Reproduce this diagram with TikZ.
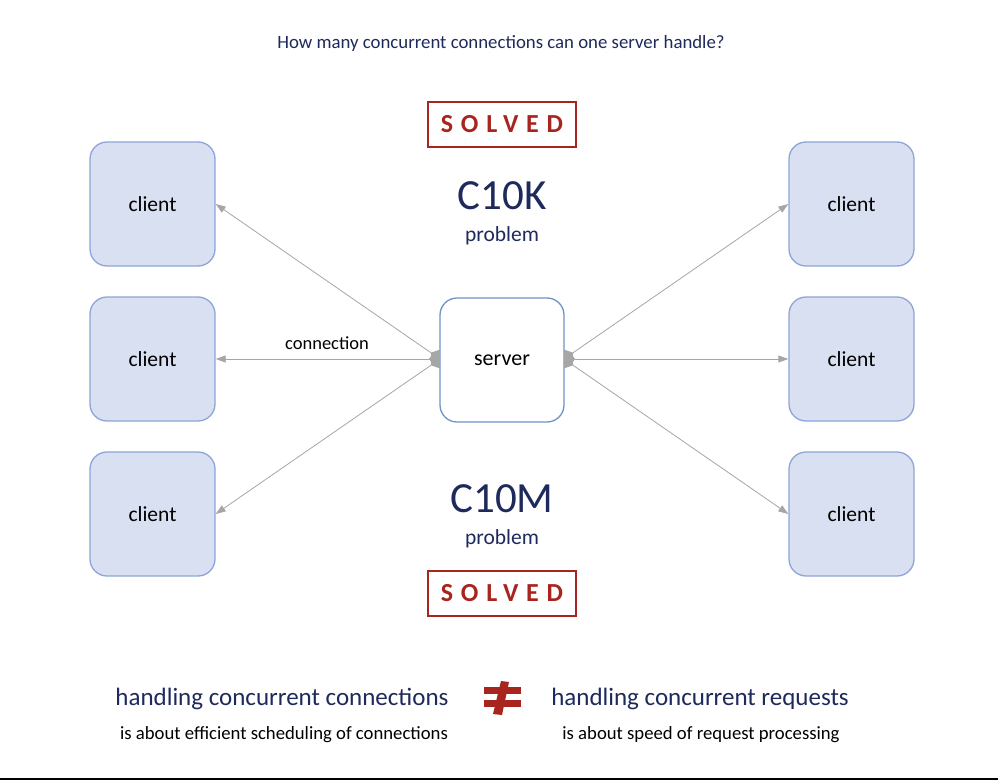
\documentclass[tikz,border=0pt]{standalone}
\usepackage{fontspec}
\setmainfont{Carlito}
\usetikzlibrary{arrows.meta}
\definecolor{navy}{HTML}{1F2A5C}
\definecolor{solvedred}{HTML}{A8241E}
\definecolor{cfill}{HTML}{D9E0F2}
\definecolor{cborder}{HTML}{8EA5D8}
\definecolor{sborder}{HTML}{6F93C8}
\definecolor{conn}{HTML}{A6A6A6}
\tikzset{
  clientbox/.style={draw=cborder, fill=cfill, line width=1.3pt, rounded corners=17pt,
    minimum width=125pt, minimum height=124pt, inner sep=0pt, font=\fontsize{21.5}{25}\selectfont},
  serverbox/.style={draw=sborder, fill=white, line width=1.3pt, rounded corners=17pt,
    minimum width=124pt, minimum height=124pt, inner sep=0pt, font=\fontsize{22}{26}\selectfont},
  solvedbox/.style={draw=solvedred, line width=2.5pt, minimum width=148pt, minimum height=45pt,
    inner sep=0pt, text=solvedred, font=\fontsize{26}{30}\selectfont\bfseries\addfontfeatures{LetterSpace=30}},
  connline/.style={draw=conn, line width=0.8pt, {Diamond[length=11pt,width=15pt,fill=conn]}-{Triangle[length=10pt,width=7pt,fill=conn]}},
  bigtext/.style={text=navy, font=\fontsize{43}{50}\selectfont},
  probtext/.style={text=navy, font=\fontsize{21.5}{25}\selectfont},
  headtext/.style={text=navy, font=\fontsize{25}{30}\selectfont},
  subtext/.style={text=black, font=\fontsize{18.7}{22}\selectfont},
}
\begin{document}
\begin{tikzpicture}[x=1pt,y=-1pt]
\useasboundingbox (0,0) rectangle (998,781);
\fill[white] (0,0) rectangle (998,781);
\draw[black, line width=2pt] (0,779) coordinate (bl) -- (998,779) coordinate (br);

\node[text=navy, font=\fontsize{18.8}{22}\selectfont] (title) at (501,43) {How many concurrent connections can one server handle?};

\node[clientbox] (l1) at (152.5,204) {client};
\node[clientbox] (l2) at (152.5,359) {client};
\node[clientbox] (l3) at (152.5,514) {client};
\node[clientbox] (r1) at (851.5,204) {client};
\node[clientbox] (r2) at (851.5,359) {client};
\node[clientbox] (r3) at (851.5,514) {client};
\node[serverbox] (srv) at (502,360) {server};

\coordinate (sl) at (440,359);
\coordinate (sr) at (564,359);
\draw[connline] (sl) -- (l1.east);
\draw[connline] (sl) -- (l2.east);
\draw[connline] (sl) -- (l3.east);
\draw[connline] (sr) -- (r1.west);
\draw[connline] (sr) -- (r2.west);
\draw[connline] (sr) -- (r3.west);
\node[text=black, font=\fontsize{18.5}{22}\selectfont] (lbl) at (327,343) {connection};

\node[solvedbox] (s1) at (502,124.5) {SOLVED};
\node[bigtext] (c10k) at (502,196) {C10K};
\node[probtext] (p1) at (502,236) {problem};
\node[bigtext] (c10m) at (502,499) {C10M};
\node[probtext] (p2) at (502,539) {problem};
\node[solvedbox] (s2) at (502,593.5) {SOLVED};

\node[headtext] (h1) at (282,699) {handling concurrent connections};
\node[subtext] (t1) at (284,735) {is about efficient scheduling of connections};
\node[headtext] (h2) at (700,699) {handling concurrent requests};
\node[subtext] (t2) at (701,735) {is about speed of request processing};

\fill[solvedred] (484,687) rectangle (521,694);
\fill[solvedred] (484,700) rectangle (521,707);
\fill[solvedred] (501,681) -- (509,682) -- (502,715) -- (493,714) -- cycle;
\end{tikzpicture}
\end{document}
